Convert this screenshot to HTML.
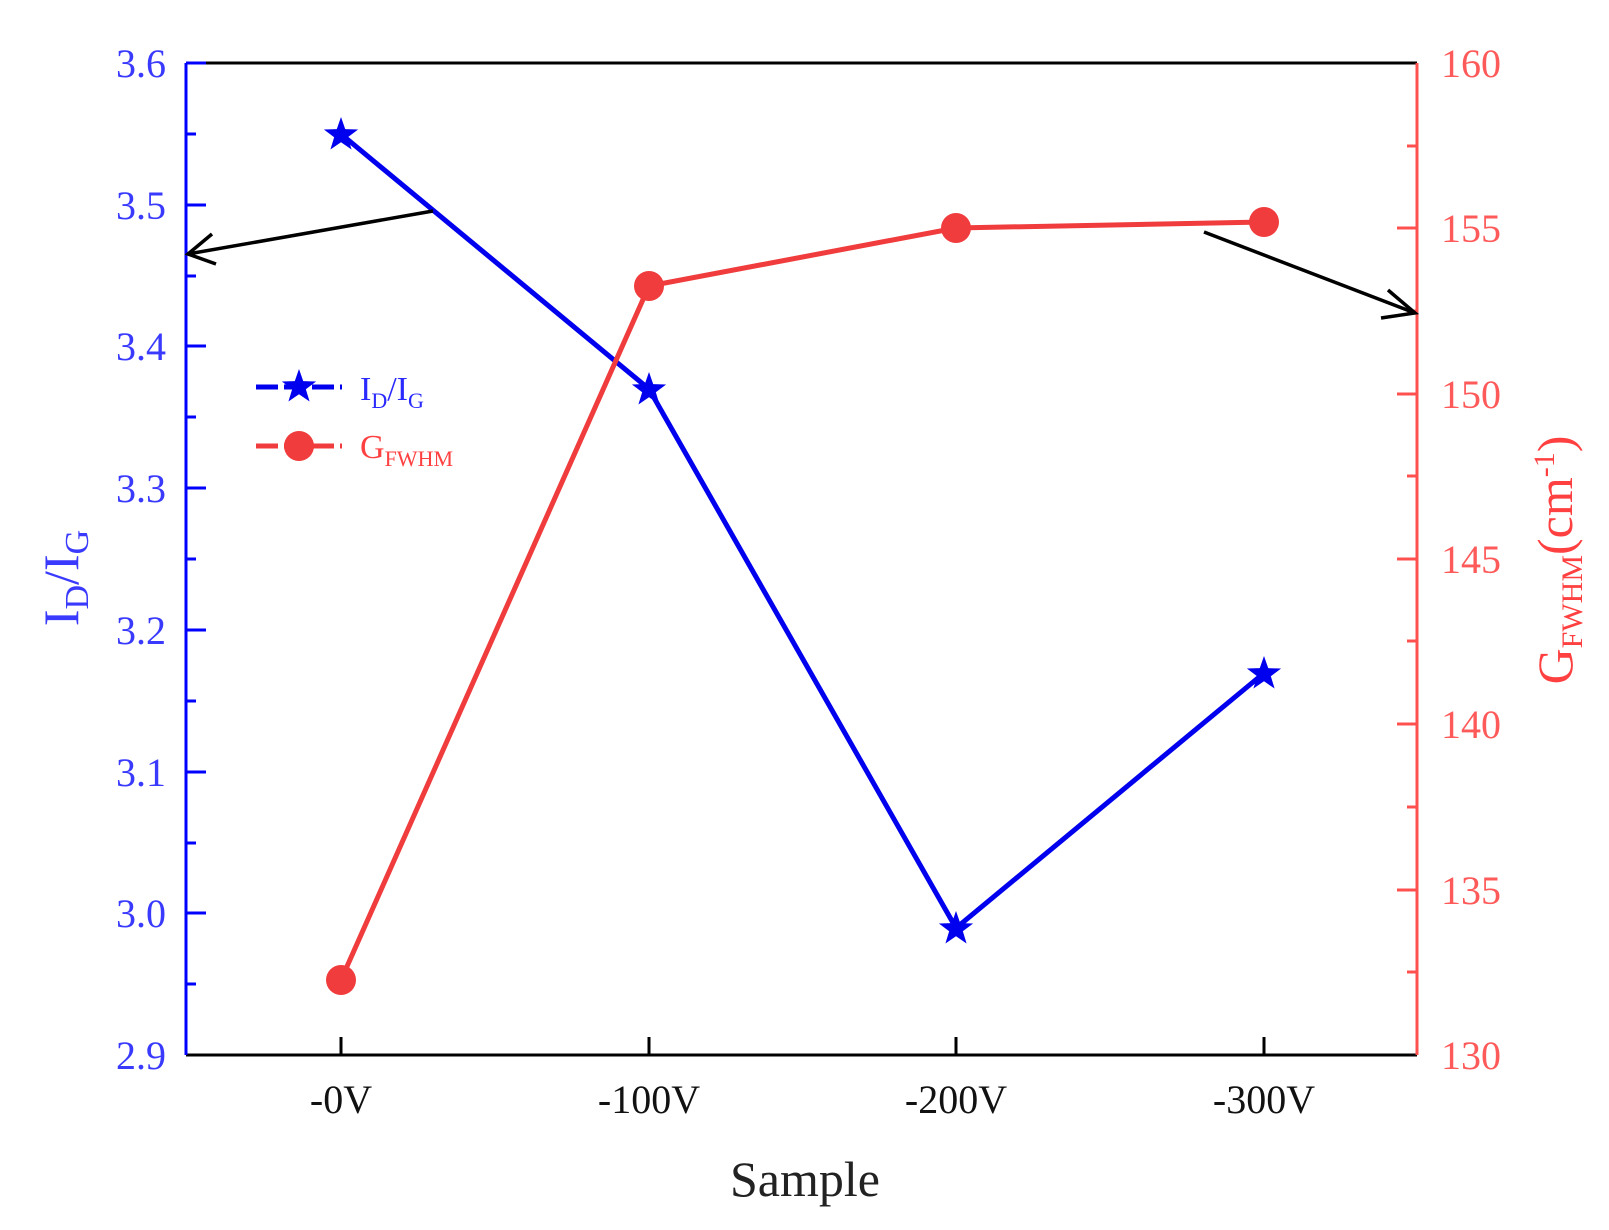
<!DOCTYPE html>
<html><head><style>body{margin:0;background:#fff}svg{display:block}</style></head><body>
<svg width="1609" height="1230" viewBox="0 0 1609 1230" xmlns="http://www.w3.org/2000/svg" font-family="Liberation Serif, serif">
<defs>
<symbol id="st" viewBox="-1 -1 2 2" overflow="visible"><polygon points="0,-1 0.235,-0.324 0.951,-0.309 0.38,0.124 0.588,0.809 0,0.4 -0.588,0.809 -0.38,0.124 -0.951,-0.309 -0.235,-0.324" fill="#0000ee"/></symbol>
</defs>
<!-- frame -->
<line x1="186" y1="63" x2="1417" y2="63" stroke="#000" stroke-width="3"/>
<line x1="186" y1="1055" x2="1417" y2="1055" stroke="#000" stroke-width="3"/>
<line x1="186" y1="63" x2="186" y2="1055" stroke="#0000ff" stroke-width="3"/>
<line x1="1417" y1="63" x2="1417" y2="1055" stroke="#ff5050" stroke-width="3"/>
<g stroke="#0000ff" stroke-width="3">
<line x1="186" x2="206" y1="63" y2="63"/><line x1="186" x2="196" y1="134" y2="134"/>
<line x1="186" x2="206" y1="205" y2="205"/><line x1="186" x2="196" y1="276" y2="276"/>
<line x1="186" x2="206" y1="346" y2="346"/><line x1="186" x2="196" y1="417" y2="417"/>
<line x1="186" x2="206" y1="488" y2="488"/><line x1="186" x2="196" y1="559" y2="559"/>
<line x1="186" x2="206" y1="630" y2="630"/><line x1="186" x2="196" y1="701" y2="701"/>
<line x1="186" x2="206" y1="772" y2="772"/><line x1="186" x2="196" y1="843" y2="843"/>
<line x1="186" x2="206" y1="913" y2="913"/><line x1="186" x2="196" y1="984" y2="984"/>
</g>
<g stroke="#ff5050" stroke-width="3">
<line x1="1397" x2="1417" y1="228" y2="228"/><line x1="1407" x2="1417" y1="146" y2="146"/>
<line x1="1397" x2="1417" y1="394" y2="394"/><line x1="1407" x2="1417" y1="311" y2="311"/>
<line x1="1397" x2="1417" y1="559" y2="559"/><line x1="1407" x2="1417" y1="476" y2="476"/>
<line x1="1397" x2="1417" y1="724" y2="724"/><line x1="1407" x2="1417" y1="641" y2="641"/>
<line x1="1397" x2="1417" y1="890" y2="890"/><line x1="1407" x2="1417" y1="807" y2="807"/>
<line x1="1407" x2="1417" y1="972" y2="972"/>
</g>
<g stroke="#000" stroke-width="3">
<line x1="341" x2="341" y1="1055" y2="1037"/><line x1="649" x2="649" y1="1055" y2="1037"/>
<line x1="956" x2="956" y1="1055" y2="1037"/><line x1="1264" x2="1264" y1="1055" y2="1037"/>
</g>
<g fill="#3a3aff" font-size="40" text-anchor="end">
<text x="166" y="77">3.6</text><text x="166" y="219">3.5</text><text x="166" y="360">3.4</text>
<text x="166" y="502">3.3</text><text x="166" y="644">3.2</text><text x="166" y="786">3.1</text>
<text x="166" y="927">3.0</text><text x="166" y="1069">2.9</text>
</g>
<g fill="#ff5a5a" font-size="40">
<text x="1441" y="77">160</text><text x="1441" y="242">155</text><text x="1441" y="408">150</text>
<text x="1441" y="573">145</text><text x="1441" y="738">140</text><text x="1441" y="904">135</text>
<text x="1441" y="1069">130</text>
</g>
<g fill="#111" font-size="40" text-anchor="middle">
<text x="341" y="1113">-0V</text><text x="649" y="1113">-100V</text>
<text x="956" y="1113">-200V</text><text x="1264" y="1113">-300V</text>
</g>
<text x="805" y="1196" font-size="50" text-anchor="middle" fill="#222">Sample</text>
<text transform="translate(78,578) rotate(-90)" font-size="50" fill="#3a3aff" text-anchor="middle">I<tspan font-size="34" dy="10">D</tspan><tspan dy="-10">/I</tspan><tspan font-size="34" dy="10">G</tspan></text>
<text transform="translate(1572,560) rotate(-90)" font-size="50" fill="#ff4040" text-anchor="middle">G<tspan font-size="30" dy="10">FWHM</tspan><tspan dy="-10">(cm</tspan><tspan font-size="30" dy="-18">-1</tspan><tspan dy="18">)</tspan></text>
<!-- series -->
<polyline points="341,134 649,389 956,928 1264,673" fill="none" stroke="#0000ee" stroke-width="5"/>
<polyline points="341,980 649,286 956,228 1264,222" fill="none" stroke="#f03c3c" stroke-width="5"/>
<g fill="#f03c3c"><circle cx="341" cy="980" r="15"/><circle cx="649" cy="286" r="15"/><circle cx="956" cy="228" r="15"/><circle cx="1264" cy="222" r="15"/></g>
<use href="#st" x="323" y="117" width="36" height="36"/>
<use href="#st" x="631" y="372" width="36" height="36"/>
<use href="#st" x="938" y="911" width="36" height="36"/>
<use href="#st" x="1246" y="656" width="36" height="36"/>
<!-- legend -->
<line x1="256" x2="342" y1="387" y2="387" stroke="#0000ee" stroke-width="5" stroke-dasharray="22,6"/>
<use href="#st" x="281" y="369" width="36" height="36"/>
<text x="360" y="400" font-size="34" fill="#2a2aff">I<tspan font-size="22" dy="8">D</tspan><tspan dy="-8">/I</tspan><tspan font-size="22" dy="8">G</tspan></text>
<line x1="256" x2="342" y1="446" y2="446" stroke="#f03c3c" stroke-width="5" stroke-dasharray="22,6"/>
<circle cx="299" cy="446" r="15" fill="#f03c3c"/>
<text x="360" y="458" font-size="34" fill="#ff4040">G<tspan font-size="22" dy="8">FWHM</tspan></text>
<!-- arrows -->
<g stroke="#000" stroke-width="3.5" fill="none">
<line x1="433" y1="211" x2="188" y2="254"/><polyline points="212,234 188,254 216,264"/>
<line x1="1204" y1="232" x2="1415" y2="313"/><polyline points="1388,290 1415,313 1381,318"/>
</g>
</svg>
</body></html>
